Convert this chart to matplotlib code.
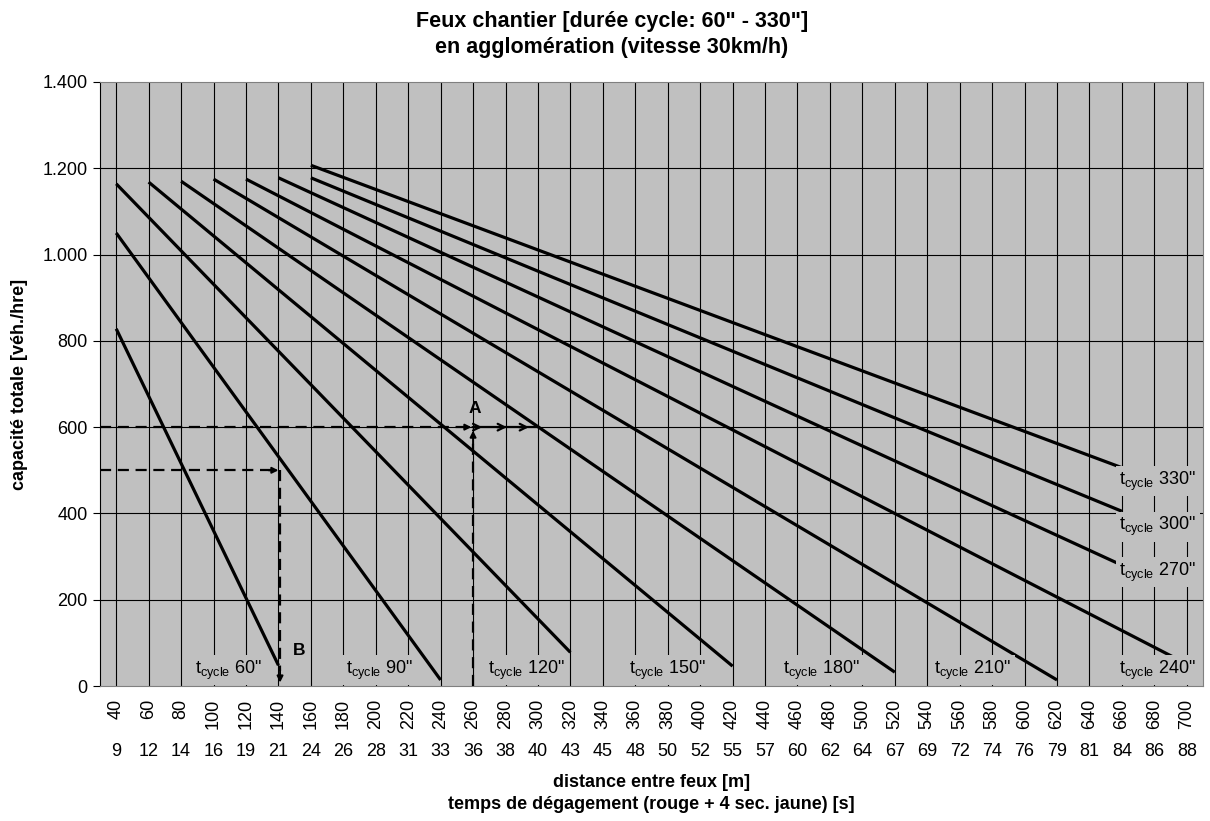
import matplotlib.pyplot as plt
from matplotlib.ticker import FuncFormatter
from matplotlib.transforms import blended_transform_factory

## distance entre feux [m] (categories) et temps de dégagement [s]
distances = [40, 60, 80, 100, 120, 140, 160, 180, 200, 220, 240, 260, 280, 300, 320, 340, 360,
             380, 400, 420, 440, 460, 480, 500, 520, 540, 560, 580, 600, 620, 640, 660, 680, 700]
clearance = [9, 12, 14, 16, 19, 21, 24, 26, 28, 31, 33, 36, 38, 40, 43, 45, 48,
             50, 52, 55, 57, 60, 62, 64, 67, 69, 72, 74, 76, 79, 81, 84, 86, 88]

## durée de cycle et extrémités des courbes de capacité
cycles = [60, 90, 120, 150, 180, 210, 240, 270, 300, 330]
start_dist = [40, 40, 40, 60, 80, 100, 120, 140, 160, 160]
start_cap = [828, 1050, 1164, 1168, 1170, 1175, 1175, 1178, 1178, 1207]
end_dist = [140, 240, 320, 420, 520, 620, 700, 660, 660, 660]
end_cap = [48, 14, 78, 46, 32, 14, 51, 280, 405, 506]

## exemples de lecture A et B
ex_A = (260, 600, 300)   # distance, capacité, distance cible
ex_B = (140, 500)

## position des étiquettes t_cycle (index catégorie, capacité)
label_pos = {60: (3.45, 37), 90: (8.1, 37), 120: (12.65, 37), 150: (17.0, 37),
             180: (21.75, 37), 210: (26.4, 37), 240: (32.1, 37),
             270: (32.1, 264), 300: (32.1, 369), 330: (32.1, 475)}

plt.rcParams['font.family'] = ['Liberation Sans', 'DejaVu Sans']
plt.rcParams['mathtext.fontset'] = 'custom'
plt.rcParams['mathtext.rm'] = 'Liberation Sans'

idx = {d: i for i, d in enumerate(distances)}

fig = plt.figure(figsize=(12.1, 8.21), dpi=100)
ax = fig.add_axes([100/1210, 135/821, 1103/1210, 604/821])
ax.set_facecolor('#c0c0c0')
ax.set_xlim(-0.5, len(distances) - 0.5)
ax.set_ylim(0, 1400)

## grille
for i in range(len(distances)):
    ax.axvline(i, color='black', lw=0.8, zorder=1)
for v in range(200, 1400, 200):
    ax.axhline(v, color='black', lw=0.8, zorder=1)

## courbes
for c, sd, sc, ed, ec in zip(cycles, start_dist, start_cap, end_dist, end_cap):
    ax.plot([idx[sd], idx[ed]], [sc, ec], color='black', lw=2.3, zorder=3,
            solid_capstyle='butt')

## étiquettes
for c in cycles:
    x, y = label_pos[c]
    ax.text(x, y, r'$\mathregular{t_{cycle}}$ %d"' % c, ha='center', va='center',
            fontsize=13, zorder=5,
            bbox=dict(boxstyle='square,pad=0.2', fc='#c0c0c0', ec='none'))

## exemple A
a_x, a_y, a_t = idx[ex_A[0]], ex_A[1], idx[ex_A[2]]
dash = (0, (5, 3))
ax.plot([-0.5, a_x - 0.2], [a_y, a_y], color='black', lw=1.6, ls=dash, zorder=4)
ax.plot([a_x, a_x], [0, a_y - 25], color='black', lw=1.6, ls=dash, zorder=4)
arr = dict(arrowstyle='-|>', color='black', lw=1.4, mutation_scale=9, shrinkA=0, shrinkB=0)
ax.annotate('', xy=(a_x - 0.05, a_y), xytext=(a_x - 0.3, a_y), arrowprops=arr, zorder=4)
ax.annotate('', xy=(a_x, a_y - 8), xytext=(a_x, a_y - 40), arrowprops=arr, zorder=4)
ax.plot([a_x + 0.05, a_t], [a_y, a_y], color='black', lw=1.6, zorder=4)
for f in [0.14, 0.52, 0.86]:
    xa = a_x + f * (a_t - a_x)
    ax.annotate('', xy=(xa, a_y), xytext=(xa - 0.3, a_y),
                arrowprops=dict(arrowstyle='->', color='black', lw=1.6,
                                mutation_scale=12, shrinkA=0, shrinkB=0), zorder=4)
ax.text(a_x + 0.05, a_y + 26, 'A', fontsize=12.5, fontweight='bold', ha='center',
        va='bottom', zorder=5)

## exemple B
b_x, b_y = idx[ex_B[0]], ex_B[1]
ax.plot([-0.5, b_x - 0.2], [b_y, b_y], color='black', lw=1.6, ls=dash, zorder=4)
ax.annotate('', xy=(b_x, b_y), xytext=(b_x - 0.3, b_y), arrowprops=arr, zorder=4)
ax.plot([b_x + 0.05, b_x + 0.05], [b_y, 35], color='black', lw=1.6, ls=dash, zorder=4)
ax.annotate('', xy=(b_x + 0.05, 8), xytext=(b_x + 0.05, 40), arrowprops=arr, zorder=6)
ax.text(b_x + 0.65, 82, 'B', fontsize=12.5, fontweight='bold', ha='center', va='center',
        zorder=5)

## axes
for s in ['top', 'right', 'bottom']:
    ax.spines[s].set_color('#808080')
ax.spines['left'].set_color('black')
ax.set_yticks(range(0, 1401, 200))
ax.yaxis.set_major_formatter(FuncFormatter(lambda v, p: f"{v:,.0f}".replace(',', '.')))
ax.tick_params(axis='y', labelsize=13, length=5, color='black', pad=4)
ax.set_xticks(range(len(distances)))
ax.set_xticklabels([str(d) for d in distances], rotation=90, fontsize=13)
ax.tick_params(axis='x', length=0, pad=9)

trans = blended_transform_factory(ax.transData, ax.transAxes)
for i, c in enumerate(clearance):
    ax.text(i, -0.109, str(c), transform=trans, ha='center', va='center', fontsize=13)

ax.text(0.5, -0.159, 'distance entre feux [m]', transform=ax.transAxes, ha='center',
        va='center', fontsize=13, fontweight='bold')
ax.text(0.5, -0.197, 'temps de dégagement (rouge + 4 sec. jaune) [s]',
        transform=ax.transAxes, ha='center', va='center', fontsize=13, fontweight='bold')
fig.text(20/1210, 1 - 384/821, 'capacité totale [véh./hre]', rotation=90, ha='center',
         va='center', fontsize=13, fontweight='bold')

fig.text(612/1210, 1 - 22/821, 'Feux chantier [durée cycle: 60" - 330"]', ha='center',
         va='center', fontsize=15.5, fontweight='bold')
fig.text(612/1210, 1 - 47/821, 'en agglomération (vitesse 30km/h)', ha='center',
         va='center', fontsize=15.5, fontweight='bold')

fig.savefig('out.png', dpi=100)
